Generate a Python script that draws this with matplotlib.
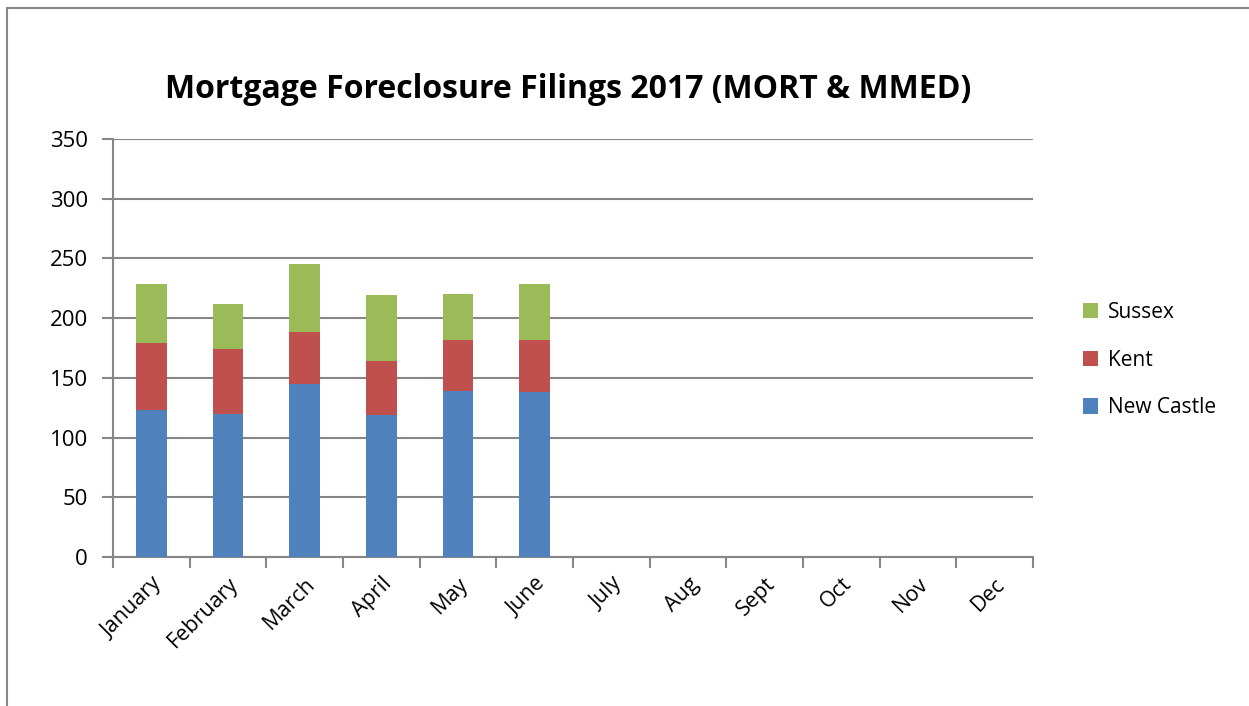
import matplotlib.pyplot as plt
from matplotlib.patches import Rectangle

months = ['January', 'February', 'March', 'April', 'May', 'June',
          'July', 'Aug', 'Sept', 'Oct', 'Nov', 'Dec']
new_castle = [123, 120, 145, 119, 139, 138]
kent = [56, 54, 43, 45, 43, 44]
sussex = [50, 38, 57, 55, 38, 47]

plt.rcParams['font.family'] = ['Open Sans', 'DejaVu Sans']

fig = plt.figure(figsize=(12.49, 7.06), dpi=100)
ax = fig.add_axes([113 / 1249, 1 - 557 / 706, 920 / 1249, 418 / 706])

# outer chart border
fig.patches.append(Rectangle((7 / 1249, -0.1), 1.2, 1 - 8 / 706 + 0.1,
                             transform=fig.transFigure, fill=False,
                             edgecolor='#888888', linewidth=1.5))

n = len(new_castle)
x = list(range(n))
w = 0.4
bottom2 = [a + b for a, b in zip(new_castle, kent)]
ax.bar(x, new_castle, w, color='#4F81BD', label='New Castle', zorder=3)
ax.bar(x, kent, w, bottom=new_castle, color='#C0504D', label='Kent', zorder=3)
ax.bar(x, sussex, w, bottom=bottom2, color='#9BBB59', label='Sussex', zorder=3)

ax.set_xlim(-0.5, len(months) - 0.5)
ax.set_ylim(0, 350)
ax.set_yticks(range(0, 351, 50))
ax.yaxis.grid(True, color='#868686', linewidth=1.5, zorder=0)
ax.set_axisbelow(True)

ax.set_xticks([i - 0.5 for i in range(len(months) + 1)])
ax.set_xticklabels([])
ax.set_xticks(range(len(months)), minor=True)
ax.set_xticklabels(months, minor=True, rotation=45, ha='right',
                   rotation_mode='anchor', fontsize=15.5)
ax.tick_params(axis='x', which='minor', length=0, pad=12)
ax.tick_params(axis='x', which='major', length=8, color='#868686', width=1.5)
ax.tick_params(axis='y', length=8, color='#868686', width=1.5, labelsize=16,
               pad=10)

for s in ['top', 'right']:
    ax.spines[s].set_visible(False)
for s in ['left', 'bottom']:
    ax.spines[s].set_color('#868686')
    ax.spines[s].set_linewidth(1.5)

fig.text(568 / 1249, 1 - 90 / 706, 'Mortgage Foreclosure Filings 2017 (MORT & MMED)',
         ha='center', va='center', fontsize=23, fontweight='bold')

handles, labels = ax.get_legend_handles_labels()
fig.legend(handles[::-1], labels[::-1], loc='center left',
           bbox_to_anchor=(1064 / 1249, 1 - 360 / 706), frameon=False,
           fontsize=15, handlelength=0.75, handleheight=0.75,
           labelspacing=1.28, handletextpad=0.45)

fig.savefig('out.png', dpi=100)
